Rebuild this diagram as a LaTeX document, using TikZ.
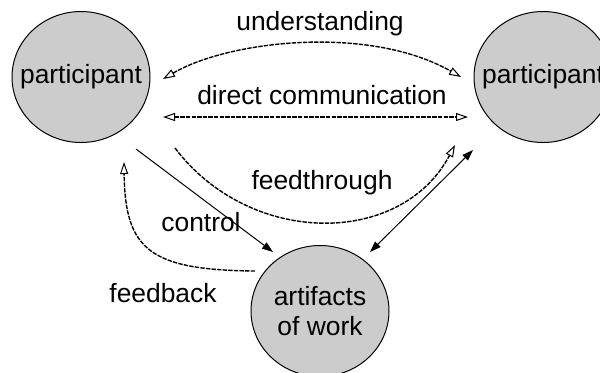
\documentclass[tikz,border=0pt]{standalone}
\usepackage{fontspec}
\setmainfont{Liberation Sans}
\usetikzlibrary{arrows.meta, shapes.geometric}
\begin{document}
\begin{tikzpicture}[x=0.5pt, y=-0.5pt,
        every node/.style={font=\fontsize{13.2}{15}\selectfont},
        actor/.style={ellipse, draw, line width=0.5pt, fill=gray!40, minimum width=69pt, minimum height=65.5pt, inner sep=0pt},
        flow/.style={line width=0.7pt, dash pattern=on 2.2pt off 0.6pt},
        link/.style={line width=0.5pt},
        hollow/.tip={Triangle[open, length=6pt, width=4pt, line width=0.5pt]},
        full/.tip={Triangle[length=5.5pt, width=3.8pt]}]
    \useasboundingbox (0, 0) rectangle (600, 372);
    \node [actor, label=center:participant] (pl) at (81, 77) {};
    \node [actor, label=center:participant] (pr) at (543, 77) {};
    \node [actor, label={[align=center]center:artifacts\\of work}] (pa) at (320, 311) {};
    \draw [flow, hollow-hollow] ([shift={(82, 2)}]pl.center) .. controls (230, 40) and (370, 25) .. ([shift={(-82, 0)}]pr.center);
    \draw [flow, hollow-hollow] ([shift={(82, 40)}]pl.center) -- ([shift={(-75, 40)}]pr.center);
    \draw [flow, -hollow] ([shift={(94, 71)}]pl.center) .. controls (250, 247) and (401, 247) .. ([shift={(-88, 68)}]pr.center);
    \draw [link, -full] ([shift={(55, 72)}]pl.center) -- ([shift={(-47, -59)}]pa.center);
    \draw [link, full-full] ([shift={(50, -59)}]pa.center) -- ([shift={(-70, 73)}]pr.center);
    \draw [flow, -hollow] ([shift={(-65, -40)}]pa.center) .. controls (150, 270) and (125, 250) .. ([shift={(43, 85)}]pl.center);
    \node (understanding) at (320, 24) {understanding};
    \node (direct) at (322, 95) {direct communication};
    \node (feedthrough) at (322, 183) {feedthrough};
    \node (control) at (201, 222) {control};
    \node (feedback) at (163, 293) {feedback};
\end{tikzpicture}
\end{document}
